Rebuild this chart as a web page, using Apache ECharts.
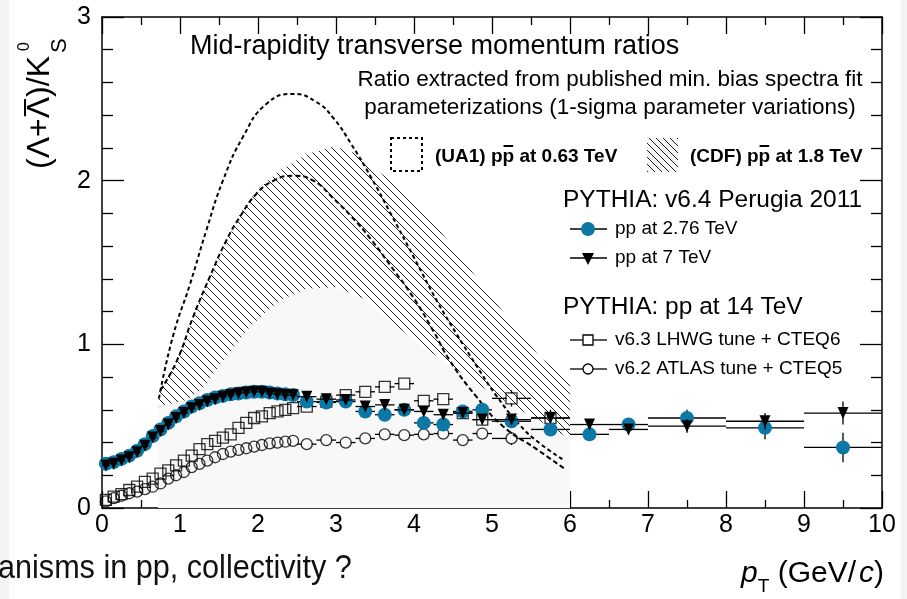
<!DOCTYPE html>
<html><head><meta charset="utf-8">
<script src="https://cdn.jsdelivr.net/npm/echarts@6/dist/echarts.min.js"></script>
<style>html,body{margin:0;padding:0;background:#fff}#c{width:907px;height:599px}</style>
</head><body><div id="c"></div>
<script>
// ---------------- data ----------------
const xTickLabels = [0,1,2,3,4,5,6,7,8,9,10];
const yTickLabels = [0,1,2,3];

const denseX = [0.05,0.15,0.25,0.35,0.45,0.55,0.65,0.75,0.85,0.95,1.05,1.15,1.25,1.35,1.45,1.55,1.65,1.75,1.85,1.95,2.05,2.15,2.25,2.35,2.45];
const denseHalfBin = 0.05;
const sparseX = [2.625,2.875,3.125,3.375,3.625,3.875,4.125,4.375,4.625,4.875,5.25,5.75,6.25,6.75,7.5,8.5,9.5];
const sparseHalfBin = [0.125,0.125,0.125,0.125,0.125,0.125,0.125,0.125,0.125,0.125,0.25,0.25,0.25,0.25,0.5,0.5,0.5];

// PYTHIA v6.4 Perugia 2011, pp 2.76 TeV
const pp276Dense = [0.27,0.28,0.30,0.32,0.35,0.39,0.44,0.48,0.52,0.56,0.59,0.62,0.64,0.66,0.675,0.685,0.695,0.70,0.705,0.71,0.71,0.705,0.70,0.695,0.69];
const pp276Sparse = [0.65,0.645,0.65,0.59,0.57,0.60,0.52,0.51,0.59,0.60,0.53,0.48,0.45,0.51,0.55,0.49,0.37];
const pp276Err = [0.02,0.02,0.02,0.02,0.02,0.02,0.03,0.03,0.03,0.03,0.03,0.04,0.04,0.04,0.05,0.07,0.09];

// PYTHIA v6.4 Perugia 2011, pp 7 TeV
const pp7Dense = [0.26,0.27,0.29,0.31,0.34,0.38,0.43,0.47,0.51,0.55,0.58,0.61,0.63,0.65,0.665,0.68,0.69,0.70,0.705,0.71,0.71,0.70,0.695,0.69,0.69];
const pp7Sparse = [0.68,0.665,0.66,0.62,0.63,0.60,0.59,0.57,0.58,0.54,0.54,0.55,0.51,0.48,0.50,0.53,0.58];
const pp7Err = [0.02,0.02,0.02,0.02,0.02,0.02,0.02,0.02,0.02,0.03,0.03,0.03,0.03,0.03,0.04,0.05,0.07];

// PYTHIA pp 14 TeV, v6.3 LHWG tune + CTEQ6
const lhwgDense = [0.05,0.07,0.085,0.11,0.13,0.16,0.18,0.21,0.23,0.26,0.29,0.32,0.36,0.39,0.41,0.43,0.45,0.49,0.52,0.55,0.56,0.58,0.59,0.60,0.61];
const lhwgSparse = [0.62,0.65,0.69,0.71,0.74,0.76,0.655,0.665,0.58,0.54,0.67,0.55];
const lhwgErr = [0.02,0.02,0.02,0.02,0.02,0.02,0.02,0.02,0.03,0.03,0.05,0.05];

// PYTHIA pp 14 TeV, v6.2 ATLAS tune + CTEQ5
const atlasDense = [0.04,0.06,0.075,0.09,0.10,0.115,0.13,0.15,0.18,0.20,0.22,0.25,0.27,0.29,0.31,0.33,0.345,0.355,0.365,0.375,0.385,0.395,0.40,0.405,0.41];
const atlasSparse = [0.39,0.415,0.40,0.425,0.45,0.445,0.45,0.455,0.415,0.455,0.425];
const atlasErr = [0.02,0.02,0.02,0.02,0.02,0.02,0.02,0.02,0.03,0.03,0.04];

// UA1 p-pbar 0.63 TeV band edges (dashed)
const ua1UpX = [0.73,0.91,1.13,1.34,1.55,1.81,2.11,2.45,2.75,2.97,3.2,3.45,3.7,4.0,4.3,4.55,4.8,5.05,5.35,5.6,5.93];
const ua1UpY = [0.67,1.05,1.37,1.70,2.00,2.27,2.47,2.53,2.48,2.38,2.22,2.02,1.80,1.53,1.26,1.06,0.87,0.69,0.51,0.40,0.29];
const ua1LoX = [0.75,0.96,1.17,1.38,1.6,1.77,1.98,2.2,2.45,2.71,2.97,3.2,3.45,3.7,4.0,4.25,4.46,4.8,5.14,5.57,5.93];
const ua1LoY = [0.72,0.90,1.17,1.41,1.64,1.78,1.92,2.00,2.03,2.00,1.89,1.78,1.64,1.48,1.28,1.08,0.90,0.68,0.50,0.36,0.24];

// CDF p-pbar 1.8 TeV band edges (hatched)
const cdfUpX = [0.72,0.96,1.34,1.77,2.0,2.28,2.62,2.97,3.3,3.56,3.85,4.16,4.67,5.19,5.62,6.0];
const cdfUpY = [0.70,0.90,1.37,1.80,1.95,2.06,2.16,2.21,2.16,2.05,1.95,1.80,1.49,1.17,0.92,0.78];
const cdfLoX = [0.72,1.09,1.3,1.55,1.9,2.28,2.62,3.0,3.35,3.7,4.1,4.5,5.0,5.4,5.8,6.0];
const cdfLoY = [0.62,0.66,0.74,0.90,1.11,1.27,1.34,1.35,1.28,1.14,0.99,0.86,0.70,0.59,0.48,0.42];

// ---------------- helpers ----------------
const FONT = '"Liberation Sans", Arial, Helvetica, sans-serif';
const BLUE = '#0b78a6';
const mctx = document.createElement('canvas').getContext('2d');
function tw(t, f){ mctx.font = f; return mctx.measureText(t).width; }

function makeHatch(step, color, bg){
  const c = document.createElement('canvas'); c.width = step; c.height = step;
  const g = c.getContext('2d');
  if (bg){ g.fillStyle = bg; g.fillRect(0,0,step,step); }
  g.strokeStyle = color; g.lineWidth = 1;
  g.beginPath();
  for (const o of [-step,0,step]){ g.moveTo(o-1,-1); g.lineTo(o+step+1, step+1); }
  g.stroke();
  return c;
}
const hatch = makeHatch(8, '#222', null);
const hatchLeg = makeHatch(7, '#222', '#f4f4f4');

function pts(xs, ys){ return xs.map((x,i)=>[x, ys[i]]); }
function withErr(xs, ys, hx, ey){ return xs.map((x,i)=>[x, ys[i], Array.isArray(hx)?hx[i]:hx, Array.isArray(ey)?ey[i]:ey]); }

const pp276All = withErr(denseX, pp276Dense, denseHalfBin, 0.01).concat(withErr(sparseX, pp276Sparse, sparseHalfBin, pp276Err));
const pp7All = withErr(denseX, pp7Dense, denseHalfBin, 0.01).concat(withErr(sparseX, pp7Sparse, sparseHalfBin, pp7Err));
const lhwgAll = withErr(denseX, lhwgDense, denseHalfBin, 0.01).concat(withErr(sparseX.slice(0, lhwgSparse.length), lhwgSparse, sparseHalfBin.slice(0, lhwgSparse.length), lhwgErr));
const atlasAll = withErr(denseX, atlasDense, denseHalfBin, 0.01).concat(withErr(sparseX.slice(0, atlasSparse.length), atlasSparse, sparseHalfBin.slice(0, atlasSparse.length), atlasErr));

function errSeries(data, gap, z){
  return {
    type:'custom', data, z, silent:true, clip:true,
    encode:{x:0, y:1},
    renderItem(params, api){
      const x = api.value(0), y = api.value(1), hx = api.value(2), ey = api.value(3);
      const c = api.coord([x,y]), l = api.coord([x-hx,y]), r = api.coord([x+hx,y]);
      const t = api.coord([x,y+ey]), b = api.coord([x,y-ey]);
      const st = {stroke:'#000', lineWidth:1.3};
      const ch = [];
      if (c[0]-l[0] > gap+1){
        ch.push({type:'line', shape:{x1:l[0],y1:c[1],x2:c[0]-gap,y2:c[1]}, style:st});
        ch.push({type:'line', shape:{x1:c[0]+gap,y1:c[1],x2:r[0],y2:c[1]}, style:st});
      }
      if (b[1]-c[1] > gap+1){
        ch.push({type:'line', shape:{x1:c[0],y1:t[1],x2:c[0],y2:c[1]-gap}, style:st});
        ch.push({type:'line', shape:{x1:c[0],y1:c[1]+gap,x2:c[0],y2:b[1]}, style:st});
      }
      return {type:'group', children:ch};
    }
  };
}

function bandSeries(upX, upY, loX, loY, fill, z){
  return {
    type:'custom', data:[[0,0]], z, silent:true, clip:true,
    renderItem(params, api){
      const p = upX.map((x,i)=>api.coord([x, upY[i]]));
      for (let i = loX.length-1; i >= 0; i--) p.push(api.coord([loX[i], loY[i]]));
      return {type:'polygon', shape:{points:p}, style:{fill, stroke:null}};
    }
  };
}

function floorSeries(xs, ys, fill, z){
  return {
    type:'custom', data:[[0,0]], z, silent:true, clip:true,
    renderItem(params, api){
      const p = [api.coord([xs[0], 0])];
      xs.forEach((x,i)=>p.push(api.coord([x, ys[i]])));
      p.push(api.coord([xs[xs.length-1], 0]));
      return {type:'polygon', shape:{points:p}, style:{fill, stroke:null}};
    }
  };
}

// ---------------- axes ----------------
const axisLineStyle = {color:'#000', width:1.5};
function xAx(pos, labels){
  return {
    type:'value', min:0, max:10, interval:1, position:pos,
    axisLine:{show:true, onZero:false, lineStyle:axisLineStyle},
    axisTick:{show:true, inside:true, length:17, lineStyle:{color:'#000', width:1.3}},
    minorTick:{show:true, splitNumber:2, length:8, lineStyle:{color:'#000', width:1.3}},
    splitLine:{show:false},
    axisLabel:{show:labels, color:'#000', fontSize:25, fontFamily:FONT, margin:5,
      formatter:(v)=> xTickLabels.includes(v) ? String(v) : ''}
  };
}
function yAx(pos, labels){
  return {
    type:'value', min:0, max:3, interval:1, position:pos,
    axisLine:{show:true, onZero:false, lineStyle:axisLineStyle},
    axisTick:{show:true, inside:true, length:22, lineStyle:{color:'#000', width:1.3}},
    minorTick:{show:true, splitNumber:5, length:11, lineStyle:{color:'#000', width:1.3}},
    splitLine:{show:false},
    axisLabel:{show:labels, color:'#000', fontSize:25, fontFamily:FONT, margin:11,
      formatter:(v)=> yTickLabels.includes(v) ? String(v) : ''}
  };
}

// ---------------- graphics (text, legend) ----------------
const yTitleF = '32px ' + FONT;
const wOpen = tw('(Λ+', yTitleF), wLam = tw('Λ', yTitleF);

const legBoldF = 'bold 19px ' + FONT;
const ua1Lbl = '(UA1) pp at 0.63 TeV', cdfLbl = '(CDF) pp at 1.8 TeV';
const ppPre1 = tw('(UA1) p', legBoldF), ppPre2 = tw('(CDF) p', legBoldF), pW = tw('p', legBoldF);

const xtF = '30px ' + FONT;
const subF = '19px ' + FONT;
const wp = tw('p', 'italic ' + xtF);
const wT = tw('T', subF);
const wGeV = tw(' (GeV/', xtF) + 3;
const wc = tw('c', 'italic ' + xtF);
const wpar = tw(')', xtF);
const xtEnd = 884;
const xtStart = xtEnd - (wp + wT + wGeV + wc + wpar);

function txt(x, y, text, font, align, fill){
  return {type:'text', x, y, silent:true, style:{text, font, fill:fill||'#000', align:align||'left', verticalAlign:'middle'}};
}
const slideTxt = txt(-2, 569, 'anisms in pp, collectivity ?', '34px ' + FONT, 'left', '#111');
slideTxt.scaleX = 0.9;

const graphic = [
  {type:'rect', shape:{x:0,y:0,width:9,height:599}, style:{fill:'#f3f3f3'}, silent:true, z:-10},
  {type:'rect', shape:{x:901,y:0,width:6,height:599}, style:{fill:'#f3f3f3'}, silent:true, z:-10},
  // titles
  txt(190, 47, 'Mid-rapidity transverse momentum ratios', '27px ' + FONT),
  txt(610, 80, 'Ratio extracted from published min. bias spectra fit', '22.5px ' + FONT, 'center'),
  txt(610, 108, 'parameterizations (1-sigma parameter variations)', '22.5px ' + FONT, 'center'),
  // UA1 / CDF legend
  {type:'rect', shape:{x:391,y:138,width:31,height:33}, style:{fill:null, stroke:'#000', lineWidth:2, lineDash:[3,3]}, silent:true},
  txt(435, 157, ua1Lbl, legBoldF),
  {type:'line', shape:{x1:435+ppPre1+1, y1:146, x2:435+ppPre1+pW-1, y2:146}, style:{stroke:'#000', lineWidth:2}, silent:true},
  {type:'rect', shape:{x:647,y:138,width:31,height:34}, style:{fill:{image:hatchLeg, repeat:'repeat'}}, silent:true},
  txt(690, 157, cdfLbl, legBoldF),
  {type:'line', shape:{x1:690+ppPre2+1, y1:146, x2:690+ppPre2+pW-1, y2:146}, style:{stroke:'#000', lineWidth:2}, silent:true},
  // PYTHIA legend
  txt(563, 200, 'PYTHIA: v6.4 Perugia 2011', '24.5px ' + FONT),
  {type:'line', shape:{x1:570,y1:229,x2:607,y2:229}, style:{stroke:'#000', lineWidth:1.3}, silent:true},
  {type:'circle', shape:{cx:588, cy:229, r:7}, style:{fill:BLUE}, silent:true},
  txt(615, 229, 'pp at 2.76 TeV', '19px ' + FONT),
  {type:'line', shape:{x1:570,y1:258,x2:607,y2:258}, style:{stroke:'#000', lineWidth:1.3}, silent:true},
  {type:'polygon', shape:{points:[[582,253],[594,253],[588,265]]}, style:{fill:'#000'}, silent:true},
  txt(615, 258, 'pp at 7 TeV', '19px ' + FONT),
  txt(563, 307, 'PYTHIA: pp at 14 TeV', '24.5px ' + FONT),
  {type:'line', shape:{x1:570,y1:340,x2:583,y2:340}, style:{stroke:'#000', lineWidth:1.3}, silent:true},
  {type:'line', shape:{x1:593,y1:340,x2:607,y2:340}, style:{stroke:'#000', lineWidth:1.3}, silent:true},
  {type:'rect', shape:{x:583,y:335,width:10,height:10}, style:{fill:null, stroke:'#000', lineWidth:1.3}, silent:true},
  txt(615, 340, 'v6.3 LHWG tune + CTEQ6', '19px ' + FONT),
  {type:'line', shape:{x1:570,y1:369,x2:583,y2:369}, style:{stroke:'#000', lineWidth:1.3}, silent:true},
  {type:'line', shape:{x1:593,y1:369,x2:607,y2:369}, style:{stroke:'#000', lineWidth:1.3}, silent:true},
  {type:'circle', shape:{cx:588, cy:369, r:5}, style:{fill:null, stroke:'#000', lineWidth:1.3}, silent:true},
  txt(615, 369, 'v6.2 ATLAS tune + CTEQ5', '19px ' + FONT),
  // y axis title (rotated)
  {type:'group', x:39, y:169, rotation:Math.PI/2, silent:true, children:[
    {type:'text', x:0, y:1, style:{text:'(Λ+Λ)/K', font:yTitleF, fill:'#000', align:'left', verticalAlign:'middle'}},
    {type:'line', shape:{x1:wOpen+2, y1:-14, x2:wOpen+wLam-2, y2:-14}, style:{stroke:'#000', lineWidth:2}},
    {type:'text', x:118, y:-14, style:{text:'0', font:'16px ' + FONT, fill:'#000', align:'left', verticalAlign:'middle'}},
    {type:'text', x:116, y:21, style:{text:'S', font:'22px ' + FONT, fill:'#000', align:'left', verticalAlign:'middle'}}
  ]},
  // x axis title
  txt(xtStart, 574, 'p', 'italic ' + xtF),
  txt(xtStart + wp, 587, 'T', subF),
  txt(xtStart + wp + wT, 574, ' (GeV/', xtF),
  txt(xtStart + wp + wT + wGeV, 574, 'c', 'italic ' + xtF),
  txt(xtStart + wp + wT + wGeV + wc, 574, ')', xtF),
  // slide text fragment at the bottom
  slideTxt
];

// ---------------- chart ----------------
const chart = echarts.init(document.getElementById('c'), null, {renderer:'canvas'});
chart.setOption({
  backgroundColor:'#fff',
  animation:false,
  grid:{left:102, right:25, top:17, bottom:91, containLabel:false},
  xAxis:[xAx('bottom', true), xAx('top', false)],
  yAxis:[yAx('left', true), yAx('right', false)],
  graphic,
  series:[
    floorSeries(cdfLoX, cdfLoY, '#f8f8f8', 1),
    bandSeries(cdfUpX, cdfUpY, cdfLoX, cdfLoY, {image:hatch, repeat:'repeat'}, 2),
    {type:'line', data:pts(ua1UpX, ua1UpY), smooth:true, symbol:'none', z:3, silent:true,
      lineStyle:{color:'#000', width:2, type:[4,3]}},
    {type:'line', data:pts(ua1LoX, ua1LoY), smooth:true, symbol:'none', z:3, silent:true,
      lineStyle:{color:'#000', width:2, type:[5,3]}},
    errSeries(lhwgAll, 5, 4),
    {type:'scatter', data:lhwgAll.map(d=>[d[0],d[1]]), symbol:'rect', symbolSize:11, z:5, silent:true,
      itemStyle:{color:'rgba(0,0,0,0)', borderColor:'#000', borderWidth:1.3}},
    errSeries(atlasAll, 5, 4),
    {type:'scatter', data:atlasAll.map(d=>[d[0],d[1]]), symbol:'circle', symbolSize:11, z:5, silent:true,
      itemStyle:{color:'rgba(0,0,0,0)', borderColor:'#000', borderWidth:1.3}},
    errSeries(pp276All, 0, 6),
    {type:'scatter', data:pp276All.map(d=>[d[0],d[1]]), symbol:'circle', symbolSize:14, z:7, silent:true,
      itemStyle:{color:BLUE, borderWidth:0, opacity:1}},
    errSeries(pp7All, 0, 8),
    {type:'scatter', data:pp7All.map(d=>[d[0],d[1]]), symbol:'triangle', symbolRotate:180, symbolSize:[11,12], z:9, silent:true,
      itemStyle:{color:'#000', borderWidth:0, opacity:1}}
  ]
});
</script>
</body></html>
